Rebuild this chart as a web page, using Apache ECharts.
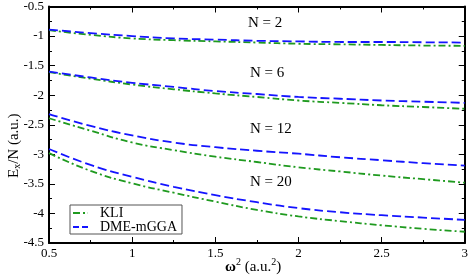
<!DOCTYPE html>
<html><head><meta charset="utf-8">
<script src="https://cdn.jsdelivr.net/npm/echarts@6/dist/echarts.min.js"></script>
<style>html,body{margin:0;padding:0;background:#fff}#c{width:471px;height:277px}</style>
</head><body><div id="c"></div>
<script>
const omega2 = [0.5, 0.75, 1, 1.25, 1.5, 1.75, 2, 2.25, 2.5, 2.75, 3];
const kliN2  = [-0.90, -0.98, -1.04, -1.07, -1.09, -1.11, -1.13, -1.14, -1.15, -1.16, -1.165];
const dmeN2  = [-0.89, -0.95, -1.00, -1.04, -1.06, -1.08, -1.09, -1.10, -1.10, -1.105, -1.11];
const kliN6  = [-1.61, -1.72, -1.82, -1.90, -1.97, -2.03, -2.09, -2.13, -2.17, -2.20, -2.23];
const dmeN6  = [-1.60, -1.70, -1.79, -1.86, -1.93, -1.98, -2.03, -2.06, -2.09, -2.11, -2.13];
const kliN12 = [-2.39, -2.60, -2.80, -2.93, -3.04, -3.13, -3.22, -3.29, -3.36, -3.42, -3.48];
const dmeN12 = [-2.32, -2.52, -2.68, -2.80, -2.88, -2.94, -2.99, -3.05, -3.10, -3.15, -3.19];
const kliN20 = [-2.98, -3.28, -3.49, -3.65, -3.80, -3.94, -4.05, -4.13, -4.20, -4.26, -4.31];
const dmeN20 = [-2.91, -3.18, -3.38, -3.55, -3.69, -3.81, -3.91, -3.98, -4.03, -4.07, -4.11];
const xTicks = ['0.5', '1', '1.5', '2', '2.5', '3'];
const nLabels = ['N = 2', 'N = 6', 'N = 12', 'N = 20'];
const legendNames = ['KLI', 'DME-mGGA'];

const FONT = 'Liberation Serif';
const green = '#1f9a1f', blue = '#1414ff';
function pairs(ys){ return omega2.map((x,i)=>[x, ys[i]]); }
function kli(ys){ return {name:'KLI', type:'line', data:pairs(ys), symbol:'none', smooth:true,
  lineStyle:{color:green, width:1.8, type:[7,3,2,3]}, itemStyle:{color:green}, silent:true}; }
function dme(ys){ return {name:'DME-mGGA', type:'line', data:pairs(ys), symbol:'none', smooth:true,
  lineStyle:{color:blue, width:1.8, type:[9,4]}, itemStyle:{color:blue}, silent:true}; }

const axisCommon = {
  axisLine:{show:true, onZero:false, lineStyle:{color:'#000', width:2}},
  axisTick:{show:true, inside:true, length:6, lineStyle:{color:'#000', width:1}},
  minorTick:{show:true, splitNumber:2, length:3, lineStyle:{color:'#000', width:1}},
  splitLine:{show:false}
};
const chart = echarts.init(document.getElementById('c'), null, {renderer:'canvas'});
const nPos = [[248,16],[250,66],[250,122],[250,175]];
const iconKLI = 'path://M0,0H7V2H0Z M10,0H12V2H10Z M14.8,0H15V2H14.8Z';
const iconDME = 'path://M0,0H6V2H0Z M9,0H15V2H9Z';
chart.setOption({
  animation:false,
  grid:{left:49, right:5, top:5, bottom:34},
  legend:{data:[{name:legendNames[0], icon:iconKLI}, {name:legendNames[1], icon:iconDME}],
    orient:'vertical', left:70, top:205, width:113,
    itemWidth:15, itemHeight:2, itemGap:0, padding:[1,5,0,3],
    borderColor:'#555', borderWidth:1, backgroundColor:'#fff',
    textStyle:{fontFamily:FONT, fontSize:14, color:'#000', lineHeight:12, padding:[0,0,0,7]}, selectedMode:false},
  xAxis:[
    Object.assign({type:'value', min:0.5, max:3, interval:0.5, position:'bottom',
      axisLabel:{fontFamily:FONT, fontSize:13, color:'#000', margin:4,
        formatter:(v)=>{const i=Math.round((v-0.5)/0.5); return xTicks[i]!==undefined?xTicks[i]:'';}}}, axisCommon),
    Object.assign({type:'value', min:0.5, max:3, interval:0.5, position:'top', axisLabel:{show:false}}, axisCommon)
  ],
  yAxis:[
    Object.assign({type:'value', min:-4.5, max:-0.5, interval:0.5, position:'left',
      axisLabel:{fontFamily:FONT, fontSize:13, color:'#000', margin:5, formatter:(v)=>String(v)}}, axisCommon),
    Object.assign({type:'value', min:-4.5, max:-0.5, interval:0.5, position:'right', axisLabel:{show:false}}, axisCommon)
  ],
  graphic: nLabels.map((t,i)=>({type:'text', left:nPos[i][0], top:nPos[i][1],
      style:{text:t, fontFamily:FONT, fontSize:15, fill:'#000'}}))
    .concat([
      {type:'text', x:6, y:178, rotation:Math.PI/2,
        style:{text:'{e|E}{s|x}{e|/N (a.u.)}', fontFamily:FONT, fill:'#000',
          rich:{e:{fontFamily:FONT, fontSize:15, fill:'#000', verticalAlign:'bottom', lineHeight:16},
                s:{fontFamily:FONT, fontSize:10, fill:'#000', verticalAlign:'bottom', lineHeight:10}}}},
      {type:'text', left:225, top:257,
        style:{text:'{w|ω}{s|2}{e| (a.u.}{s|2}{e|)}', fontFamily:FONT, fill:'#000',
          rich:{w:{fontFamily:FONT, fontSize:15, fill:'#000', fontWeight:'bold', verticalAlign:'bottom', lineHeight:18},
                e:{fontFamily:FONT, fontSize:15, fill:'#000', verticalAlign:'bottom', lineHeight:18},
                s:{fontFamily:FONT, fontSize:10, fill:'#000', verticalAlign:'top', lineHeight:18}}}}
    ]),
  series:[kli(kliN2), dme(dmeN2), kli(kliN6), dme(dmeN6), kli(kliN12), dme(dmeN12), kli(kliN20), dme(dmeN20)]
});
</script></body></html>
